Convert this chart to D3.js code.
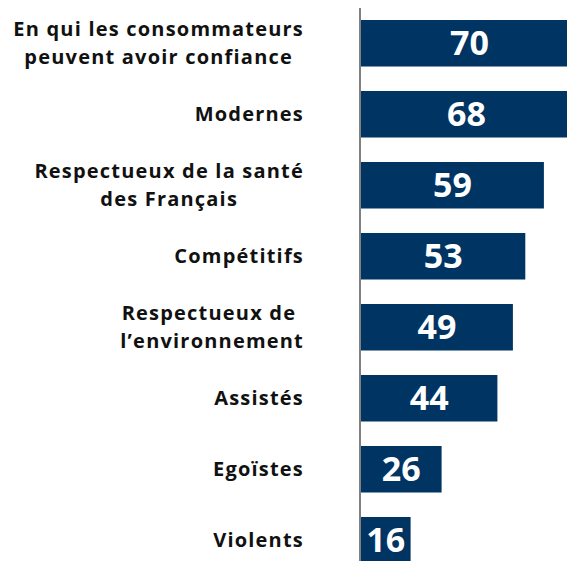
<!DOCTYPE html>
<html>
<head>
<meta charset="utf-8">
<script src="https://cdn.jsdelivr.net/npm/d3@7"></script>
<style>
  body { margin: 0; background: #fff; }
  svg { display: block; }
</style>
</head>
<body>
<script>
// categories (label lines) and scores
var categories = [
  ["En qui les consommateurs", "peuvent avoir confiance"],
  ["Modernes"],
  ["Respectueux de la santé", "des Français"],
  ["Compétitifs"],
  ["Respectueux de ", "l\u2019environnement"],
  ["Assistés"],
  ["Egoïstes"],
  ["Violents"]
];
var values = [70, 68, 59, 53, 49, 44, 26, 16];

var width = 567, height = 561;
var barColor = "#003462";
var labelRight = 304;

var svg = d3.select("body").append("svg")
  .attr("width", width)
  .attr("height", height);

var x = d3.scaleLinear()
  .domain([0, 100])
  .range([361, 361 + 310]);

var y = d3.scaleBand()
  .domain(d3.range(values.length))
  .range([7.75, 7.75 + 71 * values.length])
  .paddingInner(0.345)
  .paddingOuter(0.1725);

// bars
svg.selectAll("rect.bar")
  .data(values)
  .enter()
  .append("rect")
  .attr("class", "bar")
  .attr("x", x(0))
  .attr("y", function (d, i) { return y(i); })
  .attr("width", function (d) { return x(d) - x(0); })
  .attr("height", y.bandwidth())
  .style("fill", barColor);

// value labels, centered in each bar
svg.selectAll("text.val")
  .data(values)
  .enter()
  .append("text")
  .attr("class", "val")
  .attr("x", function (d) { return (x(0) + x(d)) / 2; })
  .attr("y", function (d, i) { return y(i) + y.bandwidth() / 2; })
  .attr("dy", "0.36em")
  .attr("text-anchor", "middle")
  .style("font-family", "'Open Sans', sans-serif")
  .style("font-weight", "bold")
  .style("font-size", "34px")
  .style("fill", "#fff")
  .text(function (d) { return d; });

// category labels on the left: block right-aligned, lines centered in the block
var lineH = 28;
var labels = svg.selectAll("text.cat")
  .data(categories)
  .enter()
  .append("text")
  .attr("class", "cat")
  .attr("text-anchor", "middle")
  .style("font-family", "'Open Sans', sans-serif")
  .style("font-weight", "bold")
  .style("font-size", "20px")
  .style("letter-spacing", "1.2px")
  .style("fill", "#111")
  .style("white-space", "pre");

labels.selectAll("tspan")
  .data(function (d) { return d; })
  .enter()
  .append("tspan")
  .attr("x", 0)
  .attr("y", function (d, j) { return j * lineH; })
  .attr("dy", "0.36em")
  .text(function (d) { return d; });

labels.each(function (d, i) {
  var w = 0;
  d3.select(this).selectAll("tspan").each(function () {
    w = Math.max(w, this.getComputedTextLength());
  });
  var cy = y(i) + y.bandwidth() / 2 - (d.length - 1) * lineH / 2;
  d3.select(this).attr("transform", "translate(" + (labelRight - w / 2) + "," + cy + ")");
});

// vertical axis line
svg.append("line")
  .attr("x1", x(0) - 1)
  .attr("x2", x(0) - 1)
  .attr("y1", 8)
  .attr("y2", height)
  .style("stroke", "#808080")
  .style("stroke-width", 2);
</script>
</body>
</html>
